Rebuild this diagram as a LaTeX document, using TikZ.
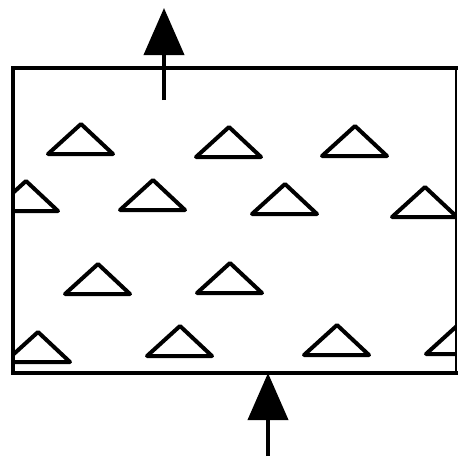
\documentclass[tikz,border=0pt]{standalone}
\usetikzlibrary{arrows.meta}

\begin{document}
\begin{tikzpicture}[x=0.5pt, y=-0.5pt, >={Triangle[length=23.5pt, width=20pt]},
  wall/.style={line width=2.2pt, line join=miter},
  grain/.style={line width=2pt, line join=round},
  flow/.style={->, line width=2pt}]
  \useasboundingbox (0,0) rectangle (458,456);
  % vessel
  \coordinate (tl) at (13,68);
  \coordinate (bl) at (13,373);
  \draw[wall] (458,68) -- (tl) -- (bl) -- (458,373);
  \draw[line width=0.6pt] (456,68) -- (456,373);
  % particles, cut by the walls
  \begin{scope}
    \clip (tl) rectangle (456,373);
    \foreach \ax/\ay in {81/124, 229/127, 355/126,
                         26/181, 153/180, 285/184, 425/187,
                         98/264, 230/263,
                         38/332, 180/326, 337/325, 459/324}
      \draw[grain] (\ax,\ay) -- ++(-33,30) -- ++(65,0) -- cycle;
  \end{scope}
  % gas in and out
  \coordinate (outS) at (164,100);
  \coordinate (outE) at (164,8);
  \coordinate (inS) at (268,456);
  \coordinate (inE) at (268,373);
  \draw[flow] (outS) -- (outE);
  \draw[flow] (inS) -- (inE);
\end{tikzpicture}
\end{document}
